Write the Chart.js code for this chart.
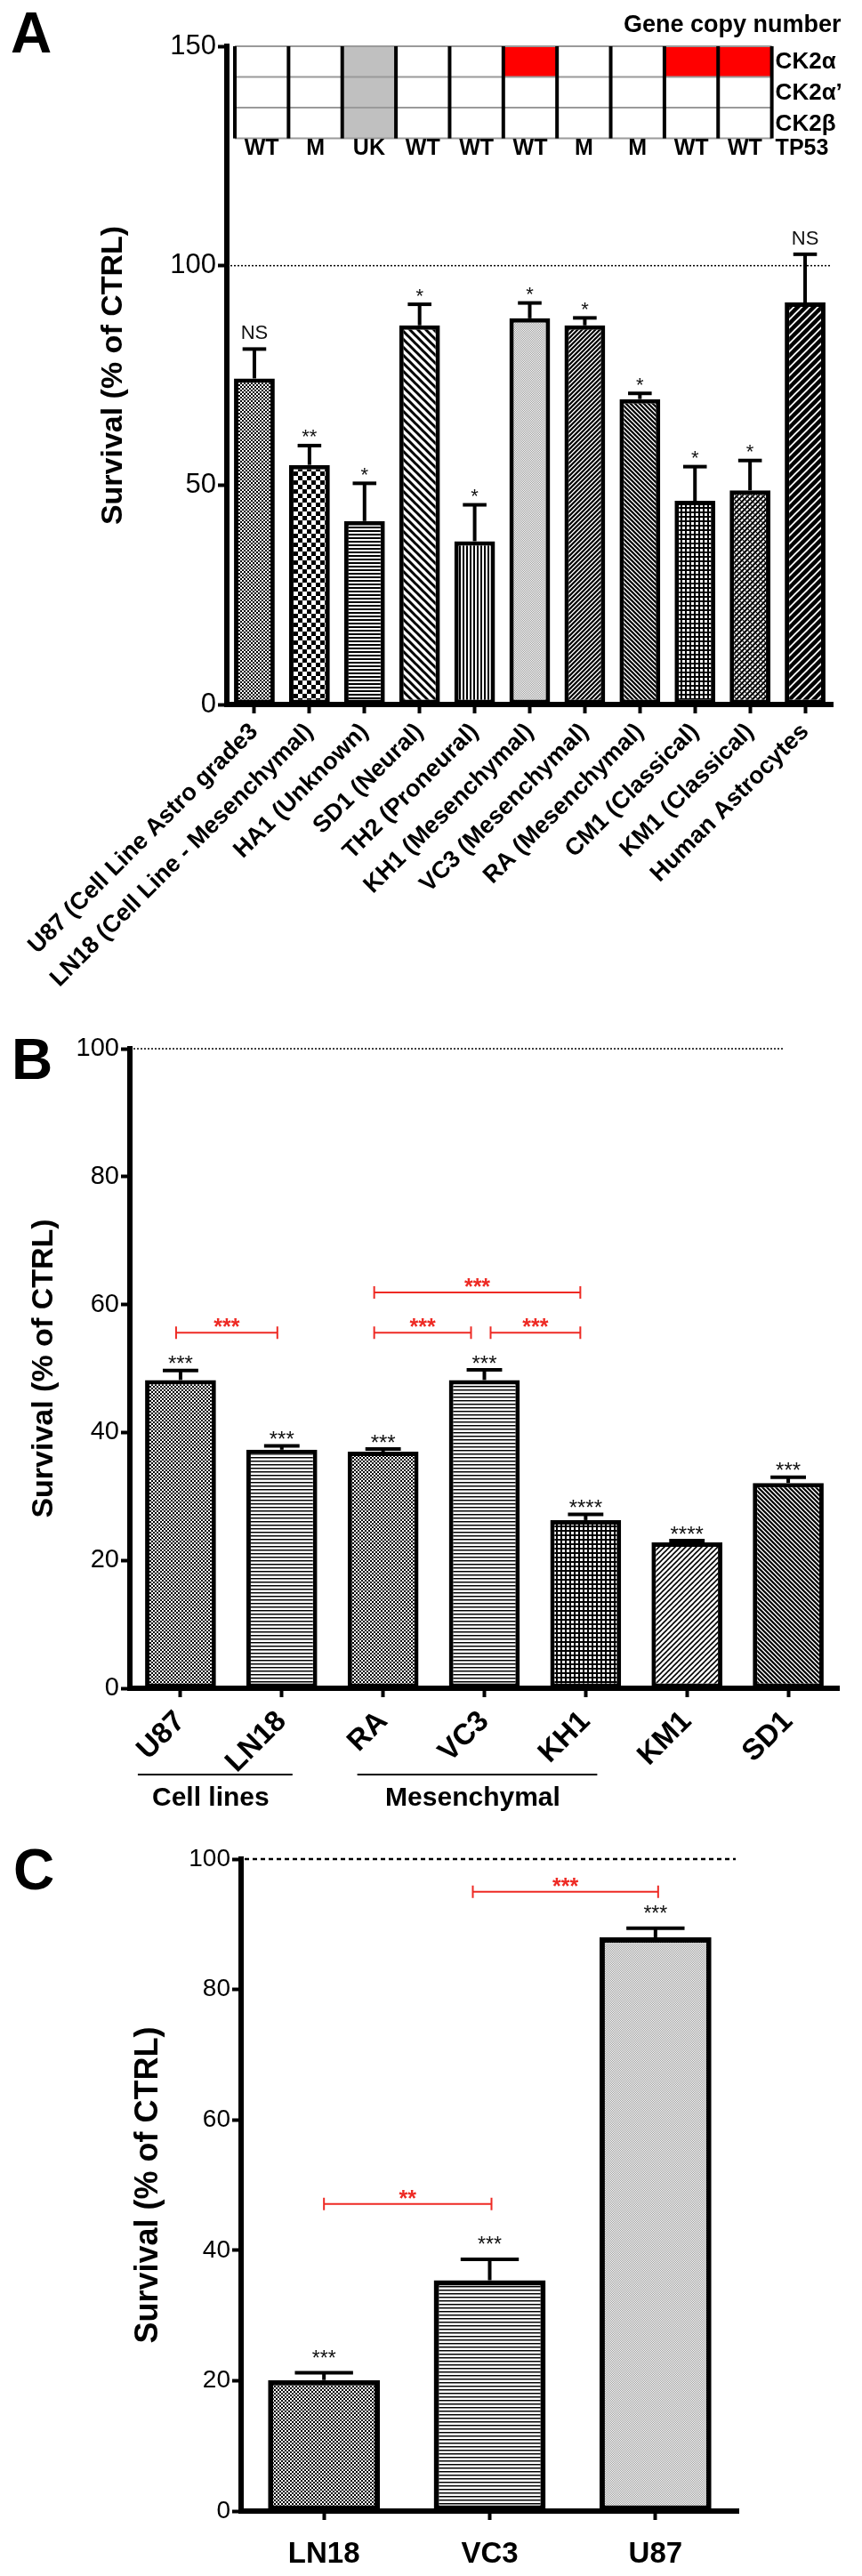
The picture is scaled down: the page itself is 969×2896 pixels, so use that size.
<!DOCTYPE html>
<html><head><meta charset="utf-8">
<script src="https://cdn.jsdelivr.net/npm/chart.js@4.4.1/dist/chart.umd.min.js"></script>
<style>
body{margin:0;background:#fff;}
#wrap{position:relative;width:969px;height:2896px;overflow:hidden;background:#fff;}
canvas{position:absolute;left:0;}
.pl{position:absolute;font-family:'Liberation Sans',Arial,sans-serif;font-weight:bold;font-size:64px;line-height:64px;color:#000;}
</style></head><body>
<div id="wrap">
<canvas id="cA" width="969" height="1130" style="top:0;width:969px;height:1130px"></canvas>
<canvas id="cB" width="969" height="920" style="top:1130px;width:969px;height:920px"></canvas>
<canvas id="cC" width="969" height="846" style="top:2050px;width:969px;height:846px"></canvas>
<div class="pl" style="left:12px;top:5px">A</div>
<div class="pl" style="left:13px;top:1159px">B</div>
<div class="pl" style="left:15px;top:2070px">C</div>
</div>
<script>
const FONT = "'Liberation Sans', Arial, sans-serif";
const RED = '#ee2a24';

// ---------- Panel A data ----------
const categoriesA = ['U87 (Cell Line Astro grade3', 'LN18 (Cell Line - Mesenchymal)', 'HA1 (Unknown)', 'SD1 (Neural)', 'TH2 (Proneural)', 'KH1 (Mesenchymal)', 'VC3 (Mesenchymal)', 'RA (Mesenchymal)', 'CM1 (Classical)', 'KM1 (Classical)', 'Human Astrocytes'];
const survivalA = [74.3, 54.6, 41.8, 86.4, 37.2, 88.0, 86.4, 69.6, 46.4, 48.8, 91.6];
const semA = [6.7, 4.4, 8.6, 4.8, 8.3, 3.5, 1.7, 1.3, 7.8, 6.8, 11.0];
const sigA = ['NS', '**', '*', '*', '*', '*', '*', '*', '*', '*', 'NS'];
const ticksA = [0, 50, 100, 150];
const tp53A = ['WT', 'M', 'UK', 'WT', 'WT', 'WT', 'M', 'M', 'WT', 'WT'];
const geneRowsA = ['CK2α', 'CK2α’', 'CK2β'];
// n = normal, a = amplified, u = unknown
const ck2aA  = ['n', 'n', 'u', 'n', 'n', 'a', 'n', 'n', 'a', 'a'];
const ck2apA = ['n', 'n', 'u', 'n', 'n', 'n', 'n', 'n', 'n', 'n'];
const ck2bA  = ['n', 'n', 'u', 'n', 'n', 'n', 'n', 'n', 'n', 'n'];
const tableRowEdgesA = [150, 143, 136, 129];

// ---------- Panel B data ----------
const categoriesB = ['U87', 'LN18', 'RA', 'VC3', 'KH1', 'KM1', 'SD1'];
const survivalB = [48.2, 37.3, 37.0, 48.2, 26.3, 22.8, 32.1];
const semB = [1.5, 0.6, 0.4, 1.6, 0.9, 0.3, 0.9];
const sigB = ['***', '***', '***', '***', '****', '****', '***'];
const ticksB = [0, 20, 40, 60, 80, 100];
const comparisonsB = [[0, 1, 55.6, '***'], [2, 3, 55.6, '***'], [3, 4, 55.6, '***'], [2, 4, 61.9, '***']];
const groupsB = [[0, 1, 'Cell lines'], [2, 4, 'Mesenchymal']];

// ---------- Panel C data ----------
const categoriesC = ['LN18', 'VC3', 'U87'];
const survivalC = [20.1, 35.4, 88.0];
const semC = [1.1, 3.2, 1.4];
const sigC = ['***', '***', '***'];
const ticksC = [0, 20, 40, 60, 80, 100];
const comparisonsC = [[0, 1, 47.1, '**'], [1, 2, 95.0, '***']];

// ---------- styles ----------
const patternsA = ['checkFine', 'checkCoarse', 'hlines', 'diagBackWide', 'vlines', 'dotsLight', 'diagFwdDense', 'diagBackDense', 'grid', 'crossDiag', 'diagFwdWide'];
const patternsB = ['checkFine', 'hlinesThin', 'checkFine', 'hlinesThin', 'grid', 'diagFwdLight', 'diagBackDense'];
const patternsC = ['checkFine', 'hlinesThin', 'dotsLight'];
const bracketInsetB = [[-5, -5], [-10, -15], [7, -6], [-10, -6]];
const bracketInsetC = [[0, 2], [-19, 3]];
const groupExtB = [[-48, 12], [-29, 13]];

function tile(w, h, draw) {
  const c = document.createElement('canvas'); c.width = w; c.height = h;
  const g = c.getContext('2d'); g.fillStyle = '#fff'; g.fillRect(0, 0, w, h); draw(g, w, h); return c;
}
function diag(g, s, lw, dir) {
  g.strokeStyle = '#000'; g.lineWidth = lw; g.lineCap = 'square';
  g.beginPath();
  for (let k = -1; k <= 1; k++) {
    if (dir === '/') { g.moveTo(k * s, s); g.lineTo(k * s + s, 0); }
    else { g.moveTo(k * s, 0); g.lineTo(k * s + s, s); }
  }
  g.stroke();
}
const TILES = {
  checkFine: () => tile(4, 4, g => { g.fillStyle = '#000'; g.fillRect(0, 0, 2, 2); g.fillRect(2, 2, 2, 2); }),
  checkCoarse: () => tile(10, 10, g => { g.fillStyle = '#000'; g.fillRect(0, 0, 5, 5); g.fillRect(5, 5, 5, 5); }),
  hlines: () => tile(4, 4, g => { g.fillStyle = '#000'; g.fillRect(0, 0, 4, 2); }),
  hlinesThin: () => tile(4, 4, g => { g.fillStyle = '#000'; g.fillRect(0, 0, 4, 1); g.fillStyle = '#888'; g.fillRect(0, 1, 4, 1); }),
  vlines: () => tile(4, 4, g => { g.fillStyle = '#000'; g.fillRect(0, 0, 2, 4); }),
  diagBackWide: () => tile(9, 9, g => diag(g, 9, 3, '\\')),
  diagFwdDense: () => tile(5, 5, g => diag(g, 5, 2.2, '/')),
  diagBackDense: () => tile(5, 5, g => diag(g, 5, 2.2, '\\')),
  grid: () => tile(5, 5, g => { g.fillStyle = '#000'; g.fillRect(0, 0, 5, 2); g.fillRect(0, 0, 2, 5); }),
  crossDiag: () => tile(6, 6, g => { diag(g, 6, 2, '/'); diag(g, 6, 1.2, '\\'); }),
  diagFwdWide: () => tile(9, 9, g => diag(g, 9, 4.5, '/')),
  dotsLight: () => tile(2, 2, g => { g.fillStyle = '#999'; g.fillRect(0, 0, 1, 1); g.fillRect(1, 1, 1, 1); }),
  diagFwdLight: () => tile(6, 6, g => diag(g, 6, 1.6, '/'))
};

function extras(cfg) {
  return {
    id: 'extras' + cfg.name,
    beforeDatasetsDraw(chart) {
      const { ctx, chartArea: ca, scales: { x, y } } = chart;
      const yy = y.getPixelForValue(100);
      const xEnd = cfg.refEnd === 'last' ? x.getPixelForValue(cfg.labels.length - 1) - 5 : ca.right - 3;
      ctx.save(); ctx.strokeStyle = '#000'; ctx.lineWidth = cfg.refLW; ctx.setLineDash(cfg.refDash);
      ctx.beginPath(); ctx.moveTo(ca.left + 4, yy); ctx.lineTo(xEnd, yy); ctx.stroke(); ctx.restore();
    },
    afterDatasetsDraw(chart) {
      const { ctx, scales: { x, y } } = chart;
      const meta = chart.getDatasetMeta(0);
      ctx.save();
      meta.data.forEach((bar, i) => {
        const top = y.getPixelForValue(cfg.values[i]);
        const err = y.getPixelForValue(cfg.values[i] + cfg.sem[i]);
        const half = bar.width * cfg.capFrac / 2;
        ctx.strokeStyle = '#000'; ctx.lineWidth = cfg.errLW; ctx.lineCap = 'butt';
        ctx.beginPath(); ctx.moveTo(bar.x, top); ctx.lineTo(bar.x, err); ctx.stroke();
        ctx.beginPath(); ctx.moveTo(bar.x - half, err); ctx.lineTo(bar.x + half, err); ctx.stroke();
        const lab = cfg.sig[i];
        const isStar = /^\*+$/.test(lab);
        const fs = cfg.sigFont;
        ctx.fillStyle = '#111'; ctx.font = `${fs}px ${FONT}`; ctx.textAlign = 'center'; ctx.textBaseline = 'alphabetic';
        const center = err - (isStar ? cfg.starGap : cfg.nsGap);
        ctx.fillText(lab, bar.x, center + (isStar ? 0.57 : 0.36) * fs);
      });
      ctx.restore();
    },
    afterDraw(chart) {
      const { ctx, chartArea: ca, scales: { x, y } } = chart;
      ctx.save();
      (cfg.comparisons || []).forEach((c, j) => {
        const [a, b, lvl, lab] = c; const [il, ir] = cfg.bracketInset[j];
        const x1 = x.getPixelForValue(a) + il, x2 = x.getPixelForValue(b) + ir, yy = y.getPixelForValue(lvl);
        ctx.strokeStyle = RED; ctx.lineWidth = 2; ctx.setLineDash([]);
        ctx.beginPath(); ctx.moveTo(x1, yy); ctx.lineTo(x2, yy);
        ctx.moveTo(x1, yy - 7); ctx.lineTo(x1, yy + 7); ctx.moveTo(x2, yy - 7); ctx.lineTo(x2, yy + 7); ctx.stroke();
        const fs = cfg.redFont;
        ctx.fillStyle = RED; ctx.font = `bold ${fs}px ${FONT}`; ctx.textAlign = 'center'; ctx.textBaseline = 'alphabetic';
        ctx.fillText(lab, (x1 + x2) / 2, yy - 12 + 0.57 * fs);
      });
      if (cfg.table) {
        const T = cfg.table;
        const n = T.tp53.length;
        const ex = k => x.getPixelForValue(-0.5 + k * 0.975) + 9;
        const ry = T.rowEdges.map(v => y.getPixelForValue(v));
        for (let r = 0; r < T.status.length; r++) for (let i = 0; i < n; i++) {
          const s = T.status[r][i];
          if (s === 'n') continue;
          ctx.fillStyle = s === 'u' ? '#c0c0c0' : '#ff0000';
          ctx.fillRect(ex(i), ry[r], ex(i + 1) - ex(i), ry[r + 1] - ry[r]);
        }
        ctx.strokeStyle = '#9a9a9a'; ctx.lineWidth = 2;
        ry.forEach(yy => { ctx.beginPath(); ctx.moveTo(ex(0), yy); ctx.lineTo(ex(n), yy); ctx.stroke(); });
        ctx.strokeStyle = '#000'; ctx.lineWidth = 4;
        for (let k = 0; k <= n; k++) { ctx.beginPath(); ctx.moveTo(ex(k), ry[0]); ctx.lineTo(ex(k), ry[ry.length - 1]); ctx.stroke(); }
        const bottom = ry[ry.length - 1];
        ctx.fillStyle = '#000'; ctx.font = `bold 25px ${FONT}`; ctx.textAlign = 'center'; ctx.textBaseline = 'middle';
        T.tp53.forEach((t, i) => ctx.fillText(t, (ex(i) + ex(i + 1)) / 2, bottom + 12));
        ctx.textAlign = 'left';
        ctx.fillText('TP53', ex(n) + 4, bottom + 12);
        ctx.font = `bold 26px ${FONT}`;
        T.genes.forEach((g, r) => ctx.fillText(g, ex(n) + 4, (ry[r] + ry[r + 1]) / 2 + 1));
        ctx.font = `bold 27px ${FONT}`; ctx.textAlign = 'right';
        ctx.fillText('Gene copy number', ex(n) + 78, ry[0] - 23);
      }
      (cfg.groups || []).forEach((gp, j) => {
        const [a, b, lab] = gp; const [l, r] = cfg.groupExt[j];
        const x1 = x.getPixelForValue(a) + l, x2 = x.getPixelForValue(b) + r;
        const yy = ca.bottom + 97;
        ctx.strokeStyle = '#000'; ctx.lineWidth = 2; ctx.setLineDash([]);
        ctx.beginPath(); ctx.moveTo(x1, yy); ctx.lineTo(x2, yy); ctx.stroke();
        ctx.fillStyle = '#000'; ctx.font = `bold 30px ${FONT}`; ctx.textAlign = 'center'; ctx.textBaseline = 'middle';
        ctx.fillText(lab, (x1 + x2) / 2 - 5, yy + 27);
      });
      ctx.restore();
    }
  };
}

function makeChart(id, cfg) {
  const canvas = document.getElementById(id);
  const ctx = canvas.getContext('2d');
  const fills = cfg.patterns.map(p => ctx.createPattern(TILES[p](), 'repeat'));
  return new Chart(canvas, {
    type: 'bar',
    data: {
      labels: cfg.labels,
      datasets: [{
        data: cfg.values, backgroundColor: fills, borderColor: '#000', borderWidth: cfg.barBorder,
        borderSkipped: false, barPercentage: cfg.barPct, categoryPercentage: 1
      }]
    },
    options: {
      responsive: false, animation: false, devicePixelRatio: 1,
      layout: { padding: cfg.padding },
      plugins: { legend: { display: false }, tooltip: { enabled: false } },
      scales: {
        x: {
          offset: true,
          grid: { offset: false, drawOnChartArea: false, drawTicks: true, tickLength: 10, tickWidth: 4, tickColor: '#000', color: '#000' },
          border: { display: true, width: cfg.axisW, color: '#000' },
          ticks: { autoSkip: false, maxRotation: cfg.rot, minRotation: cfg.rot, padding: cfg.xPad, color: '#000', font: { family: FONT, size: cfg.xFont, weight: 'bold' } },
          afterFit: s => { s.height = cfg.xHeight; }
        },
        y: {
          min: cfg.ticks[0], max: cfg.ticks[cfg.ticks.length - 1],
          afterBuildTicks: s => { s.ticks = cfg.ticks.map(v => ({ value: v })); },
          ticks: { padding: 2, color: '#000', font: { family: FONT, size: cfg.yFont } },
          grid: { drawOnChartArea: false, tickLength: 10, tickWidth: 4, tickColor: '#000', color: '#000' },
          border: { width: cfg.axisW, color: '#000' },
          title: { display: true, text: 'Survival (% of CTRL)', color: '#000', font: { family: FONT, size: cfg.titleFont, weight: 'bold' }, padding: { top: 4, bottom: 4 } },
          afterFit: s => { s.width = cfg.yWidth; }
        }
      }
    },
    plugins: [extras(cfg)]
  });
}

makeChart('cA', {
  name: 'A', labels: categoriesA, values: survivalA, sem: semA, sig: sigA, ticks: ticksA, patterns: patternsA,
  padding: { left: 103, right: 33, top: 52, bottom: 0 }, yWidth: 152, xHeight: 338,
  rot: 45, xPad: 5, xFont: 27, yFont: 31, titleFont: 34, barPct: 0.74, barBorder: 5, axisW: 6,
  errLW: 4, capFrac: 0.58, sigFont: 22, starGap: 15, nsGap: 19, redFont: 25,
  refEnd: 'right', refLW: 1.5, refDash: [2, 2],
  table: { tp53: tp53A, genes: geneRowsA, status: [ck2aA, ck2apA, ck2bA], rowEdges: tableRowEdgesA }
});
makeChart('cB', {
  name: 'B', labels: categoriesB, values: survivalB, sem: semB, sig: sigB, ticks: ticksB, patterns: patternsB,
  padding: { left: 25, right: 26, top: 49, bottom: 0 }, yWidth: 121, xHeight: 152,
  rot: 45, xPad: 8, xFont: 33, yFont: 29, titleFont: 34, barPct: 0.70, barBorder: 5, axisW: 6,
  errLW: 4, capFrac: 0.5, sigFont: 24, starGap: 13, nsGap: 15, redFont: 25,
  refEnd: 'last', refLW: 1.5, refDash: [2, 2],
  comparisons: comparisonsB, bracketInset: bracketInsetB, groups: groupsB, groupExt: groupExtB
});
makeChart('cC', {
  name: 'C', labels: categoriesC, values: survivalC, sem: semC, sig: sigC, ticks: ticksC, patterns: patternsC,
  padding: { left: 141, right: 139, top: 40, bottom: 0 }, yWidth: 130, xHeight: 73,
  rot: 0, xPad: 19, xFont: 33, yFont: 28, titleFont: 36, barPct: 0.675, barBorder: 6, axisW: 6,
  errLW: 4, capFrac: 0.52, sigFont: 23, starGap: 22, nsGap: 22, redFont: 25,
  refEnd: 'right', refLW: 2.5, refDash: [5, 4],
  comparisons: comparisonsC, bracketInset: bracketInsetC
});
</script>
</body></html>
